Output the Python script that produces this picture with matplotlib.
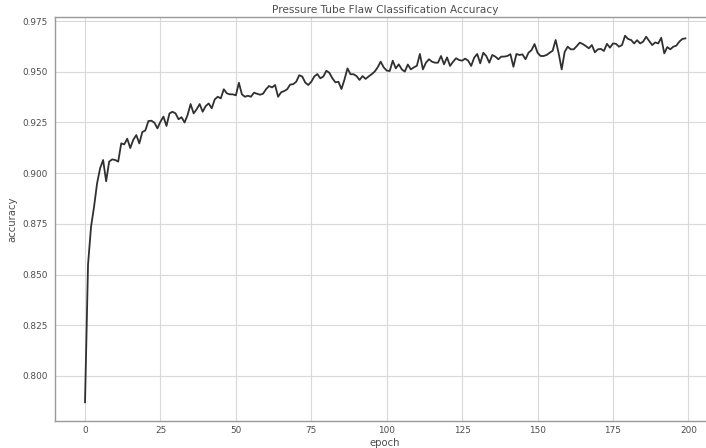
import matplotlib
matplotlib.use("Agg")
import matplotlib.pyplot as plt

epochs = list(range(200))
accuracy = [
    0.787, 0.855, 0.8736, 0.8835, 0.895, 0.9024, 0.9065, 0.896, 0.9057, 0.9068,
    0.9065, 0.9057, 0.9147, 0.9142, 0.917, 0.9124, 0.9165, 0.9188, 0.9147, 0.9203,
    0.9211, 0.9257, 0.9259, 0.9249, 0.9221, 0.9254, 0.9279, 0.9233, 0.9295, 0.9303,
    0.9295, 0.9266, 0.9276, 0.925, 0.9287, 0.9341, 0.9295, 0.9315, 0.9341, 0.9303,
    0.9331, 0.9344, 0.932, 0.9364, 0.9377, 0.9369, 0.9414, 0.9394, 0.9389, 0.9389,
    0.9384, 0.9446, 0.9389, 0.9377, 0.9382, 0.9377, 0.9397, 0.9392, 0.9387, 0.9392,
    0.9414, 0.943, 0.9423, 0.9435, 0.9377, 0.9399, 0.9405, 0.9414, 0.9437, 0.9439,
    0.9451, 0.9483, 0.9477, 0.9447, 0.9435, 0.9451, 0.9477, 0.9489, 0.9468, 0.9477,
    0.9505, 0.9495, 0.9468, 0.9448, 0.9451, 0.9415, 0.9462, 0.9517, 0.9488, 0.9488,
    0.9479, 0.946, 0.9479, 0.9465, 0.9477, 0.9488, 0.9501, 0.9522, 0.955, 0.9522,
    0.9506, 0.9504, 0.9555, 0.9517, 0.9537, 0.9512, 0.9501, 0.9536, 0.9512, 0.9522,
    0.953, 0.9588, 0.9512, 0.9545, 0.9562, 0.955, 0.9545, 0.9545, 0.9578, 0.9537,
    0.9571, 0.9529, 0.955, 0.9567, 0.9558, 0.9555, 0.9565, 0.9555, 0.9529, 0.957,
    0.9588, 0.9542, 0.9594, 0.9578, 0.9545, 0.9583, 0.9575, 0.9562, 0.9575, 0.9575,
    0.9578, 0.9587, 0.9525, 0.9588, 0.9583, 0.9586, 0.9562, 0.9594, 0.9607, 0.9637,
    0.9594, 0.9578, 0.9578, 0.9583, 0.9594, 0.9604, 0.9657, 0.9591, 0.9512, 0.9599,
    0.9624, 0.9611, 0.9611, 0.9627, 0.9644, 0.9637, 0.9627, 0.9616, 0.9632, 0.9596,
    0.9611, 0.9613, 0.9603, 0.9638, 0.9619, 0.964, 0.9638, 0.9624, 0.9632, 0.9678,
    0.9662, 0.9657, 0.964, 0.9656, 0.964, 0.9649, 0.9673, 0.9652, 0.9632, 0.9645,
    0.964, 0.9668, 0.9591, 0.9622, 0.9611, 0.9624, 0.9629, 0.9649, 0.9662, 0.9665,
]

title = "Pressure Tube Flaw Classification Accuracy"
xlabel = "epoch"
ylabel = "accuracy"

plt.rcParams['font.family'] = ['DejaVu Sans']
text_color = "#4d4d4d"

fig = plt.figure(figsize=(7.06, 4.48), dpi=100)
ax = fig.add_axes([55/706, (448-420.6)/448, 660.4/706, 403.2/448])
ax.plot(epochs, accuracy, color="#303030", linewidth=1.3)

ax.grid(True, color="#d9d9d9", linewidth=0.8)
ax.set_axisbelow(True)
for side in ax.spines.values():
    side.set_color("#999999")
    side.set_linewidth(1.0)
ax.tick_params(axis='both', length=0, labelsize=6.4, labelcolor=text_color)
ax.tick_params(axis='x', pad=4)
ax.tick_params(axis='y', pad=5.5)
ax.set_title(title, fontsize=7.6, color=text_color, pad=3.5)
ax.set_xlabel(xlabel, fontsize=7.3, color=text_color, labelpad=2)
ax.set_ylabel(ylabel, fontsize=7.3, color=text_color, labelpad=3)
ax.yaxis.set_major_formatter(matplotlib.ticker.FormatStrFormatter('%.3f'))

fig.savefig("out.png", dpi=100)
